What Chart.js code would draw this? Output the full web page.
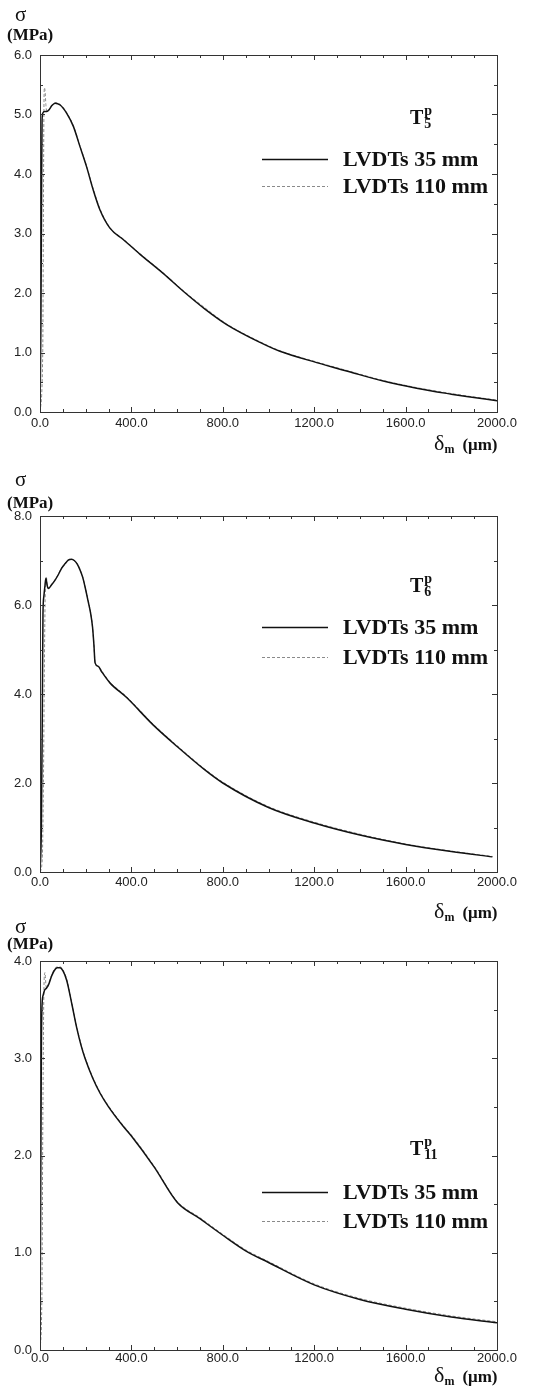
<!DOCTYPE html>
<html>
<head>
<meta charset="utf-8">
<script src="https://cdn.jsdelivr.net/npm/chart.js@4.4.1/dist/chart.umd.min.js"></script>
<style>
  body { margin: 0; background: #fff; }
  #page { position: relative; width: 533px; height: 1394px; overflow: hidden; background: #fff; }
  canvas { position: absolute; left: 0; }
  .lab { position: absolute; font-family: 'Liberation Serif', 'Times New Roman', serif; color: #111;
         white-space: nowrap; transform: translateY(-50%); line-height: 1; }
  .sigma { font-size: 21px; }
  .unit { font-size: 17px; font-weight: bold; }
  .leg { font-size: 22px; font-weight: bold; }
  .tname { font-size: 20px; font-weight: bold; }
  .tname .T { display: inline-block; vertical-align: middle; }
  .tname .ss { display: inline-flex; flex-direction: column; vertical-align: middle; font-size: 14px; line-height: 13px; margin-left: 1px; }
  .delta { font-size: 22px; }
  .delta sub { font-size: 12px; font-weight: bold; vertical-align: -3px; }
  .delta b { font-size: 17px; margin-left: 8px; }
</style>
</head>
<body>
<div id="page">
  <canvas id="chartT5" width="533" height="440" style="top:0px"></canvas>
  <canvas id="chartT6" width="533" height="440" style="top:460px"></canvas>
  <canvas id="chartT11" width="533" height="474" style="top:920px"></canvas>

  <!-- panel 1 -->
  <div class="lab sigma" style="left:15px; top:14px">σ</div>
  <div class="lab unit" style="left:7px; top:34px">(MPa)</div>
  <div class="lab tname" style="left:410px; top:117px"><span class="T">T</span><span class="ss"><span>p</span><span>5</span></span></div>
  <div class="lab leg" style="left:343px; top:159px">LVDTs 35 mm</div>
  <div class="lab leg" style="left:343px; top:186px">LVDTs 110 mm</div>
  <div class="lab delta" style="left:434px; top:443px">δ<sub>m</sub><b>(μm)</b></div>

  <!-- panel 2 -->
  <div class="lab sigma" style="left:15px; top:479px">σ</div>
  <div class="lab unit" style="left:7px; top:502px">(MPa)</div>
  <div class="lab tname" style="left:410px; top:585px"><span class="T">T</span><span class="ss"><span>p</span><span>6</span></span></div>
  <div class="lab leg" style="left:343px; top:627px">LVDTs 35 mm</div>
  <div class="lab leg" style="left:343px; top:657px">LVDTs 110 mm</div>
  <div class="lab delta" style="left:434px; top:911px">δ<sub>m</sub><b>(μm)</b></div>

  <!-- panel 3 -->
  <div class="lab sigma" style="left:15px; top:926px">σ</div>
  <div class="lab unit" style="left:7px; top:943px">(MPa)</div>
  <div class="lab tname" style="left:410px; top:1148px"><span class="T">T</span><span class="ss"><span>p</span><span>11</span></span></div>
  <div class="lab leg" style="left:343px; top:1192px">LVDTs 35 mm</div>
  <div class="lab leg" style="left:343px; top:1221px">LVDTs 110 mm</div>
  <div class="lab delta" style="left:434px; top:1375px">δ<sub>m</sub><b>(μm)</b></div>
</div>

<script>
// tick labels / tick marks
const xTickValues = [0, 400, 800, 1200, 1600, 2000];
const xMinorTicks = [0, 100, 200, 300, 400, 500, 600, 700, 800, 900, 1000, 1100, 1200, 1300, 1400, 1500, 1600, 1700, 1800, 1900, 2000];
const yTicksT5 = [0, 1, 2, 3, 4, 5, 6];
const yMinorT5 = [0.5, 1.5, 2.5, 3.5, 4.5, 5.5];
const yTicksT6 = [0, 2, 4, 6, 8];
const yMinorT6 = [1, 3, 5, 7];
const yTicksT11 = [0, 1, 2, 3, 4];
const yMinorT11 = [0.5, 1.5, 2.5, 3.5];

// T5 (delta in µm, sigma in MPa)
const t5Delta35 = [0, 4, 7, 9, 12, 20, 30, 40, 52, 66, 88, 117, 146, 175, 204, 233, 263, 306, 364, 438, 539, 627, 722, 817, 963, 1050, 1211, 1350, 1502, 1648, 1800, 1867, 2000];
const t5Sigma35 = [0, 1.5, 3.8, 4.9, 5.02, 5.05, 5.05, 5.08, 5.15, 5.19, 5.16, 5.02, 4.80, 4.46, 4.12, 3.73, 3.39, 3.09, 2.90, 2.65, 2.33, 2.03, 1.73, 1.47, 1.17, 1.02, 0.83, 0.68, 0.52, 0.40, 0.30, 0.26, 0.19];
const t5Delta110 = [0, 12, 15, 17, 19, 22, 26, 30, 36, 52, 66, 88, 117, 146, 175, 204, 233, 263, 306, 364, 438, 539, 627, 722, 817, 963, 1050, 1211, 1350, 1502, 1648, 1800, 1867, 2000];
const t5Sigma110 = [0, 1.0, 3.5, 5.0, 5.45, 5.4, 5.15, 5.05, 5.06, 5.15, 5.2, 5.17, 5.03, 4.81, 4.47, 4.13, 3.75, 3.41, 3.10, 2.91, 2.66, 2.34, 2.04, 1.75, 1.48, 1.18, 1.03, 0.84, 0.69, 0.53, 0.41, 0.31, 0.27, 0.20];

// T6
const t6Delta35 = [0, 6, 10, 13, 17, 22, 26, 31, 36, 50, 66, 80, 95, 110, 124, 138, 150, 163, 175, 187, 197, 210, 222, 230, 236, 241, 255, 270, 306, 379, 496, 600, 720, 800, 1000, 1200, 1400, 1600, 1800, 1980];
const t6Sigma35 = [0, 1.0, 3.5, 5.8, 6.2, 6.45, 6.6, 6.45, 6.37, 6.45, 6.56, 6.68, 6.83, 6.93, 7.01, 7.03, 7.0, 6.92, 6.79, 6.62, 6.41, 6.1, 5.8, 5.5, 5.1, 4.7, 4.62, 4.5, 4.25, 3.92, 3.3, 2.82, 2.3, 2.0, 1.45, 1.1, 0.83, 0.62, 0.46, 0.34];
const t6Delta110 = [0, 10, 15, 19, 22, 25, 28, 32, 36, 50, 66, 80, 95, 110, 124, 138, 150, 163, 175, 187, 197, 210, 222, 230, 236, 241, 255, 270, 306, 379, 496, 600, 720, 800, 1000, 1200, 1400, 1600, 1800, 1980];
const t6Sigma110 = [0, 0.3, 2.0, 4.5, 6.0, 6.55, 6.62, 6.42, 6.38, 6.46, 6.57, 6.69, 6.84, 6.94, 7.02, 7.03, 7.0, 6.93, 6.8, 6.63, 6.42, 6.12, 5.82, 5.5, 5.1, 4.72, 4.63, 4.52, 4.27, 3.94, 3.32, 2.84, 2.32, 2.02, 1.47, 1.12, 0.85, 0.63, 0.47, 0.35];

// T11
const t11Delta35 = [0, 3, 6, 9, 14, 20, 28, 38, 50, 62, 75, 88, 100, 117, 140, 160, 180, 197, 230, 263, 300, 364, 400, 500, 600, 700, 800, 900, 1000, 1200, 1400, 1600, 1800, 2000];
const t11Sigma35 = [0, 1.6, 3.1, 3.55, 3.65, 3.7, 3.72, 3.76, 3.84, 3.9, 3.93, 3.93, 3.9, 3.8, 3.55, 3.32, 3.13, 3.0, 2.8, 2.64, 2.5, 2.3, 2.2, 1.88, 1.52, 1.35, 1.18, 1.02, 0.9, 0.67, 0.52, 0.42, 0.34, 0.28];
const t11Delta110 = [0, 8, 12, 16, 19, 22, 26, 30, 38, 50, 62, 75, 88, 100, 117, 140, 160, 180, 197, 230, 263, 300, 364, 400, 500, 600, 700, 800, 900, 1000, 1200, 1400, 1600, 1800, 2000];
const t11Sigma110 = [0, 0.5, 2.2, 3.5, 3.85, 3.88, 3.75, 3.72, 3.77, 3.85, 3.91, 3.94, 3.94, 3.91, 3.81, 3.56, 3.33, 3.14, 3.01, 2.81, 2.65, 2.51, 2.31, 2.21, 1.89, 1.53, 1.36, 1.19, 1.03, 0.91, 0.68, 0.53, 0.43, 0.35, 0.29];

function toPoints(xs, ys) {
    return xs.map((x, i) => ({ x: x, y: ys[i] }));
}

function line(ctx, x1, y1, x2, y2) {
    ctx.beginPath();
    ctx.moveTo(x1, y1);
    ctx.lineTo(x2, y2);
    ctx.stroke();
}

// frame, inward tick marks and legend samples
const framePlugin = {
    id: 'frame',
    afterDatasetsDraw(chart, args, opts) {
        const ctx = chart.ctx;
        const a = chart.chartArea;
        const xs = chart.scales.x;
        const ys = chart.scales.y;
        ctx.save();
        ctx.strokeStyle = '#333';
        ctx.lineWidth = 1;
        ctx.strokeRect(Math.round(a.left) + 0.5, Math.round(a.top) + 0.5, Math.round(a.right - a.left), Math.round(a.bottom - a.top));

        xMinorTicks.forEach(v => {
            const px = Math.round(xs.getPixelForValue(v)) + 0.5;
            const len = xTickValues.includes(v) ? 5 : 3;
            line(ctx, px, a.bottom, px, a.bottom - len);
            line(ctx, px, a.top, px, a.top + len);
        });
        opts.yMajor.concat(opts.yMinor).forEach(v => {
            const py = Math.round(ys.getPixelForValue(v)) + 0.5;
            const len = opts.yMajor.includes(v) ? 5 : 3;
            line(ctx, a.left, py, a.left + len, py);
            line(ctx, a.right, py, a.right - len, py);
        });

        // legend samples, styled from the datasets
        chart.data.datasets.forEach((ds, i) => {
            const ly = opts.legendY[i] + 0.5;
            ctx.strokeStyle = ds.borderColor;
            ctx.lineWidth = ds.borderWidth;
            ctx.setLineDash(ds.borderDash || []);
            line(ctx, 262, ly, 328, ly);
        });
        ctx.restore();
    }
};

const tickFont = { family: "'Liberation Sans', Arial, sans-serif", size: 13 };

function makePanel(id, p) {
    const ctx = document.getElementById(id).getContext('2d');
    return new Chart(ctx, {
        type: 'line',
        data: {
            datasets: [
                {
                    label: 'LVDTs 35 mm',
                    data: toPoints(p.d35, p.s35),
                    borderColor: '#111',
                    borderWidth: 1.5,
                    cubicInterpolationMode: 'monotone',
                    pointRadius: 0
                },
                {
                    label: 'LVDTs 110 mm',
                    data: toPoints(p.d110, p.s110),
                    borderColor: '#8a8a8a',
                    borderWidth: 1,
                    borderDash: [3, 2],
                    cubicInterpolationMode: 'monotone',
                    pointRadius: 0
                }
            ]
        },
        options: {
            responsive: false,
            animation: false,
            events: [],
            layout: { padding: { left: 0, right: 36, top: p.padTop, bottom: p.padBottom } },
            plugins: {
                legend: { display: false },
                tooltip: { enabled: false },
                frame: { yMajor: p.yTicks, yMinor: p.yMinor, legendY: p.legendY }
            },
            scales: {
                x: {
                    type: 'linear',
                    min: 0,
                    max: 2000,
                    afterBuildTicks: s => { s.ticks = xTickValues.map(v => ({ value: v })); },
                    afterFit: s => { s.height = 22; },
                    grid: { display: false, drawTicks: false },
                    border: { display: false },
                    ticks: {
                        padding: p.xPad,
                        font: tickFont,
                        color: '#222',
                        maxRotation: 0,
                        autoSkip: false,
                        callback: v => v.toFixed(1)
                    }
                },
                y: {
                    type: 'linear',
                    min: 0,
                    max: p.yMax,
                    afterBuildTicks: s => { s.ticks = p.yTicks.map(v => ({ value: v })); },
                    afterFit: s => { s.width = 40; },
                    grid: { display: false, drawTicks: false },
                    border: { display: false },
                    ticks: {
                        padding: 8,
                        font: tickFont,
                        color: '#222',
                        autoSkip: false,
                        callback: v => v.toFixed(1)
                    }
                }
            }
        },
        plugins: [framePlugin]
    });
}

makePanel('chartT5', {
    d35: t5Delta35, s35: t5Sigma35, d110: t5Delta110, s110: t5Sigma110,
    yMax: 6, yTicks: yTicksT5, yMinor: yMinorT5,
    padTop: 55, padBottom: 6, xPad: 4, legendY: [159, 186]
});
makePanel('chartT6', {
    d35: t6Delta35, s35: t6Sigma35, d110: t6Delta110, s110: t6Sigma110,
    yMax: 8, yTicks: yTicksT6, yMinor: yMinorT6,
    padTop: 56, padBottom: 6, xPad: 3, legendY: [167, 197]
});
makePanel('chartT11', {
    d35: t11Delta35, s35: t11Sigma35, d110: t11Delta110, s110: t11Sigma110,
    yMax: 4, yTicks: yTicksT11, yMinor: yMinorT11,
    padTop: 41, padBottom: 22, xPad: 1, legendY: [272, 301]
});
</script>
</body>
</html>
